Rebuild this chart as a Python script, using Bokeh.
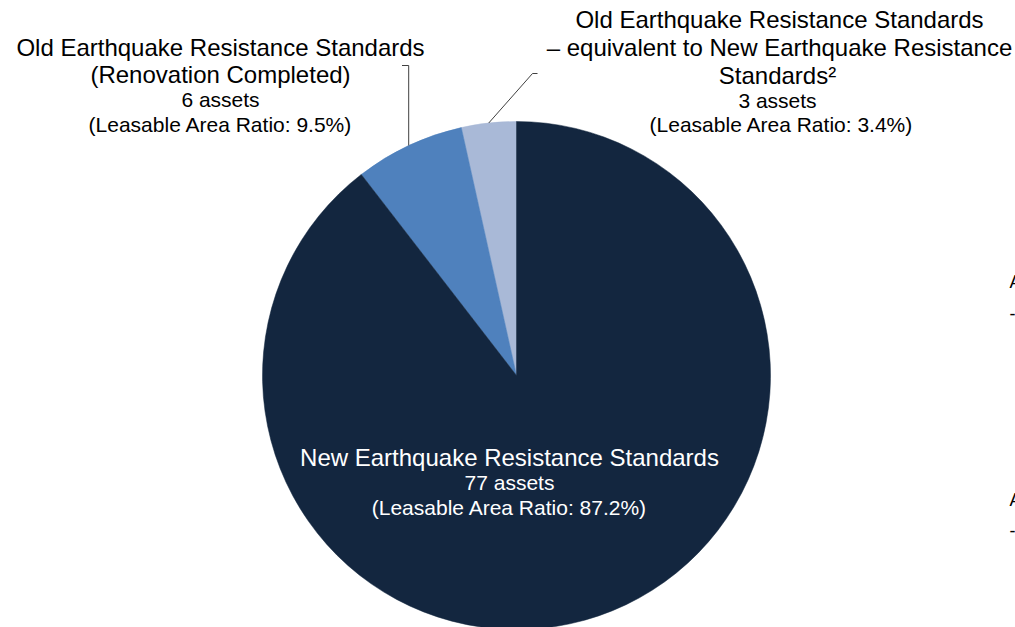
import numpy as np
from bokeh.plotting import figure
from bokeh.models import Range1d, ColumnDataSource
from bokeh.embed import file_html
from bokeh.resources import INLINE
from bokeh.core.properties import value

# ---- data ----
categories = ["New Earthquake Resistance Standards",
              "Old Earthquake Resistance Standards (Renovation Completed)",
              "Old Earthquake Resistance Standards – equivalent to New Earthquake Resistance Standards"]
asset_counts = [77, 6, 3]
leasable_ratio = [87.2, 9.5, 3.4]
colors = ["#13263F", "#4F81BD", "#A9B9D7"]

FONT = "Liberation Sans"
W, H = 1015, 627
TEXT_DY = -8  # baseline correction for text rendering


def Y(screen_y):
    # screen pixel row -> data y
    return H - screen_y


p = figure(width=W, height=H, x_range=Range1d(0, W), y_range=Range1d(0, H),
           output_backend="svg", toolbar_location=None, min_border=0,
           x_axis_type=None, y_axis_type=None)
p.grid.visible = False
p.outline_line_color = None
p.background_fill_color = "white"
p.border_fill_color = "white"

# ---- pie (counter-clockwise from 12 o'clock: smallest first) ----
cx, cy, r = 516, Y(375), 254
order = [2, 1, 0]
total = float(sum(asset_counts))
a0 = np.pi / 2
starts, ends, cols, mids = [], [], [], {}
for i in order:
    span = asset_counts[i] / total * 2 * np.pi
    starts.append(a0)
    ends.append(a0 + span)
    cols.append(colors[i])
    mids[i] = a0 + span / 2
    a0 += span

src = ColumnDataSource(dict(x=[cx] * 3, y=[cy] * 3, s=starts, e=ends, c=cols))
p.wedge(x="x", y="y", radius=r, start_angle="s", end_angle="e", direction="anticlock",
        fill_color="c", line_color="c", line_width=0.5, source=src)

# ---- leader lines ----
mx1 = cx + r * np.cos(mids[1])
my1 = cy + r * np.sin(mids[1])
p.line(x=[401.5, mx1, mx1], y=[Y(65), Y(65), my1], line_color="#404040", line_width=1)
mx2 = cx + r * np.cos(mids[2])
my2 = cy + r * np.sin(mids[2])
p.line(x=[537, 532, mx2], y=[Y(73), Y(73), my2], line_color="#404040", line_width=1)


def lines(xs, ys, texts, size, color="#000000", align="center"):
    p.text(x=xs, y=[Y(v + TEXT_DY) for v in ys], text=texts, text_font=value(FONT),
           text_font_size=size, text_color=color, text_align=align,
           text_baseline="alphabetic")


# left label
lines([220, 220], [55, 82], ["Old Earthquake Resistance Standards", "(Renovation Completed)"], "24px")
lines([220, 220], [107, 132], [f"{asset_counts[1]} assets",
                               f"(Leasable Area Ratio: {leasable_ratio[1]}%)"], "21px")

# right label
lines([779, 779, 777], [27, 55, 83], ["Old Earthquake Resistance Standards",
                                      "– equivalent to New Earthquake Resistance",
                                      "Standards²"], "24px")
lines([777, 781], [108, 132], [f"{asset_counts[2]} assets",
                               f"(Leasable Area Ratio: {leasable_ratio[2]}%)"], "21px")

# center label
lines([509], [465], ["New Earthquake Resistance Standards"], "24px", color="white")
lines([509, 509], [490, 515], [f"{asset_counts[0]} assets",
                               f"(Leasable Area Ratio: {leasable_ratio[0]}%)"], "21px", color="white")

# text fragments cut by the right edge (as in the reference)
lines([1009, 1009, 1009, 1009], [289, 321, 507, 538], ["A", "-", "A", "-"], "18px", align="left")

open("out.html", "w").write(file_html(p, INLINE))
